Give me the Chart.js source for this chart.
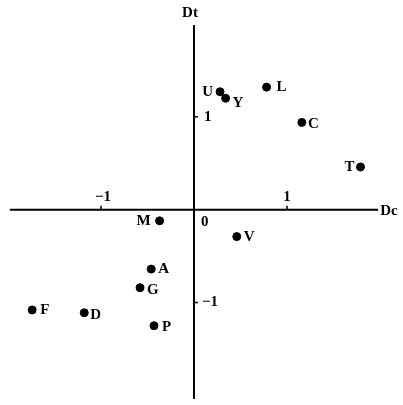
<!DOCTYPE html>
<html>
<head>
<meta charset="utf-8">
<script src="https://cdn.jsdelivr.net/npm/chart.js@4.4.1/dist/chart.umd.min.js"></script>
<style>
  html, body { margin: 0; padding: 0; background: #fff; }
  #wrap { width: 403px; height: 405px; }
</style>
</head>
<body>
<div id="wrap"><canvas id="chart" width="403" height="405"></canvas></div>
<script>
// point names and coordinates (Dc, Dt)
const names = ['U', 'Y', 'L', 'C', 'T', 'M', 'V', 'A', 'G', 'F', 'D', 'P'];
const dcValues = [0.28, 0.34, 0.78, 1.16, 1.79, -0.37, 0.46, -0.46, -0.58, -1.74, -1.18, -0.43];
const dtValues = [1.27, 1.20, 1.32, 0.94, 0.46, -0.12, -0.29, -0.64, -0.84, -1.08, -1.11, -1.25];
const xTicks = [-1, 1];
const yTicks = [1, -1];

const points = names.map((n, i) => ({ x: dcValues[i], y: dtValues[i] }));

// where each label sits relative to its dot
const labelPos = {
  U: [-7, 0, 'right'], Y: [7, 5, 'left'], L: [10, 0, 'left'], C: [6, 2, 'left'],
  T: [-6, 0, 'right'], M: [-9, 0, 'right'], V: [7, 1, 'left'], A: [7, 0, 'left'],
  G: [7, 2, 'left'], F: [8, 0, 'left'], D: [6, 2, 'left'], P: [8, 1, 'left']
};

const FONT = 'bold 15px "Liberation Serif", "DejaVu Serif", serif';

const axesPlugin = {
  id: 'crossAxes',
  afterDatasetsDraw(chart) {
    const ctx = chart.ctx;
    const xs = chart.scales.x, ys = chart.scales.y;
    const x0 = xs.getPixelForValue(0), y0 = ys.getPixelForValue(0);
    ctx.save();
    ctx.strokeStyle = '#000';
    ctx.fillStyle = '#000';
    ctx.lineWidth = 2;
    // horizontal axis
    ctx.beginPath();
    ctx.moveTo(xs.getPixelForValue(-1.98), y0);
    ctx.lineTo(xs.getPixelForValue(1.98), y0);
    ctx.stroke();
    // vertical axis
    ctx.beginPath();
    ctx.moveTo(x0, ys.getPixelForValue(1.99));
    ctx.lineTo(x0, ys.getPixelForValue(-2.04));
    ctx.stroke();
    ctx.lineWidth = 1.5;
    // ticks
    xTicks.forEach(v => {
      const px = xs.getPixelForValue(v);
      ctx.beginPath(); ctx.moveTo(px, y0); ctx.lineTo(px, y0 - 4); ctx.stroke();
    });
    yTicks.forEach(v => {
      const py = ys.getPixelForValue(v);
      ctx.beginPath(); ctx.moveTo(x0, py); ctx.lineTo(x0 + 4, py); ctx.stroke();
    });

    ctx.font = FONT;
    ctx.textBaseline = 'middle';
    // tick labels
    ctx.textAlign = 'center';
    xTicks.forEach(v => {
      const txt = v < 0 ? '\u22121' : String(v);
      ctx.fillText(txt, xs.getPixelForValue(v) + (v < 0 ? 2 : 0), y0 - 13);
    });
    ctx.textAlign = 'left';
    yTicks.forEach(v => {
      const txt = v < 0 ? '\u22121' : String(v);
      ctx.fillText(txt, x0 + (v < 0 ? 8 : 10), ys.getPixelForValue(v));
    });
    ctx.fillText('0', x0 + 7, y0 + 12);
    // axis titles
    ctx.textAlign = 'center';
    ctx.fillText('Dt', x0 - 4, ys.getPixelForValue(2.0) - 11);
    ctx.textAlign = 'left';
    ctx.fillText('Dc', xs.getPixelForValue(1.98) + 2, y0 + 1);

    // point labels
    const meta = chart.getDatasetMeta(0);
    meta.data.forEach((el, i) => {
      const p = labelPos[names[i]];
      ctx.textAlign = p[2];
      ctx.fillText(names[i], el.x + p[0], el.y + p[1]);
    });
    ctx.restore();
  }
};

new Chart(document.getElementById('chart'), {
  type: 'scatter',
  data: {
    datasets: [{
      data: points,
      backgroundColor: '#000',
      borderColor: '#000',
      pointRadius: 4,
      pointHoverRadius: 4
    }]
  },
  options: {
    responsive: false,
    animation: false,
    events: [],
    layout: { padding: { left: 8, right: 23, top: 24, bottom: 4 } },
    plugins: { legend: { display: false }, tooltip: { enabled: false } },
    scales: {
      x: { type: 'linear', min: -2, max: 2, display: false },
      y: { type: 'linear', min: -2.05, max: 2, display: false }
    }
  },
  plugins: [axesPlugin]
});
</script>
</body>
</html>
